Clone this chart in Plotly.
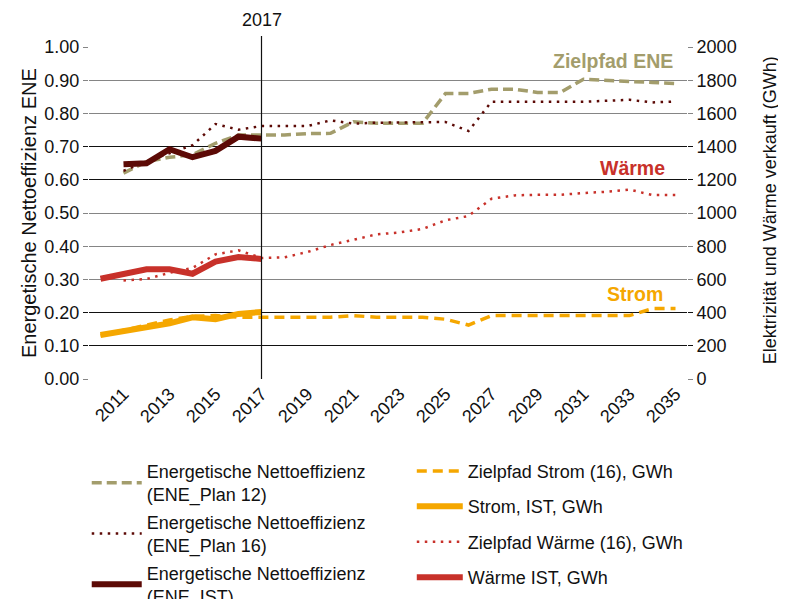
import plotly.graph_objects as go

# ---------------- data ----------------
years_ene = list(range(2011, 2036))
ene_plan12 = [0.620, 0.655, 0.668, 0.675, 0.710, 0.735, 0.735, 0.735, 0.739, 0.740,
              0.775, 0.770, 0.770, 0.770, 0.860, 0.860, 0.873, 0.873, 0.863, 0.863,
              0.903, 0.899, 0.896, 0.893, 0.890]
ene_plan16 = [0.627, 0.655, 0.680, 0.704, 0.768, 0.751, 0.762, 0.762, 0.762, 0.779,
              0.769, 0.772, 0.772, 0.772, 0.774, 0.747, 0.835, 0.835, 0.835, 0.835,
              0.835, 0.838, 0.841, 0.833, 0.836]
years_ene_ist = list(range(2011, 2018))
ene_ist = [0.647, 0.650, 0.692, 0.668, 0.687, 0.730, 0.724]

years_ist = list(range(2010, 2018))
waerme_ist = [604, 628, 661, 661, 634, 707, 735, 723]
strom_ist = [265, 291, 315, 335, 372, 360, 392, 404]

years_zw = list(range(2011, 2036))
zielpfad_waerme = [594, 602, 640, 669, 751, 775, 729, 733, 765, 807, 839, 871, 883,
                   904, 956, 982, 1086, 1106, 1110, 1110, 1120, 1128, 1141, 1108, 1108]
years_zs = list(range(2010, 2036))
zielpfad_strom = [262, 295, 325, 355, 378, 382, 372, 372, 372, 372, 372, 382, 372,
                  372, 372, 360, 325, 382, 382, 382, 382, 382, 382, 382, 424, 424]

x_ticks = list(range(2011, 2036, 2))
x_ticktext = [str(v) for v in x_ticks]
left_ticks = [i / 10 for i in range(0, 11)]
right_ticks = list(range(0, 2001, 200))
black_grid = [200, 400, 1200, 1400]
marker_year = 2017

# ---------------- colours ----------------
KHAKI = "#a39d6c"
BROWN = "#5c0a06"
RED = "#c8312a"
ORANGE = "#f5a700"
FONT = "Liberation Sans, Arial, sans-serif"

fig = go.Figure()

fig.add_trace(go.Scatter(x=years_ene, y=ene_plan12, mode="lines",
                         name="Energetische Nettoeffizienz<br>(ENE_Plan 12)",
                         line=dict(color=KHAKI, width=3.5, dash="10px,5px"),
                         legend="legend", legendgroup="a"))
fig.add_trace(go.Scatter(x=years_ene, y=ene_plan16, mode="lines",
                         name="Energetische Nettoeffizienz<br>(ENE_Plan 16)",
                         line=dict(color=BROWN, width=2.5, dash="2.5px,5.5px"),
                         legend="legend", legendgroup="b"))
fig.add_trace(go.Scatter(x=years_ene_ist, y=ene_ist, mode="lines",
                         name="Energetische Nettoeffizienz<br>(ENE_IST)",
                         line=dict(color=BROWN, width=6),
                         legend="legend", legendgroup="c"))

fig.add_trace(go.Scatter(x=years_zs, y=zielpfad_strom, mode="lines", yaxis="y2",
                         name="Zielpfad Strom (16), GWh",
                         line=dict(color=ORANGE, width=3.5, dash="10px,6px"),
                         legend="legend2", legendgroup="d"))
fig.add_trace(go.Scatter(x=years_ist, y=strom_ist, mode="lines", yaxis="y2",
                         name="Strom, IST, GWh",
                         line=dict(color=ORANGE, width=6),
                         legend="legend2", legendgroup="e"))
fig.add_trace(go.Scatter(x=years_zw, y=zielpfad_waerme, mode="lines", yaxis="y2",
                         name="Zielpfad Wärme (16), GWh",
                         line=dict(color=RED, width=2.5, dash="2.5px,5.5px"),
                         legend="legend2", legendgroup="f"))
fig.add_trace(go.Scatter(x=years_ist, y=waerme_ist, mode="lines", yaxis="y2",
                         name="Wärme IST, GWh",
                         line=dict(color=RED, width=6),
                         legend="legend2", legendgroup="g"))

# invisible trace to activate the overlay axis that draws the darker gridlines
fig.add_trace(go.Scatter(x=[years_ist[0]], y=[black_grid[0]], yaxis="y3", mode="markers",
                         marker=dict(opacity=0), showlegend=False, hoverinfo="skip"))

fig.add_shape(type="line", xref="x", yref="paper", x0=marker_year, x1=marker_year,
              y0=0, y1=1.033, line=dict(color="#111111", width=1.2), layer="above")

fig.add_annotation(x=marker_year, xref="x", y=1.081, yref="paper", text=str(marker_year),
                   xanchor="center", yanchor="middle",
                   showarrow=False, font=dict(family=FONT, size=18, color="#111111"))
fig.add_annotation(x=0.98, xref="paper", y=0.959, yref="paper", text="<b>Zielpfad ENE</b>",
                   xanchor="right", yanchor="middle", showarrow=False,
                   font=dict(family=FONT, size=19.5, color=KHAKI))
fig.add_annotation(x=0.966, xref="paper", y=0.636, yref="paper", text="<b>Wärme</b>",
                   xanchor="right", yanchor="middle", showarrow=False,
                   font=dict(family=FONT, size=19.5, color=RED))
fig.add_annotation(x=0.963, xref="paper", y=0.255, yref="paper", text="<b>Strom</b>",
                   xanchor="right", yanchor="middle", showarrow=False,
                   font=dict(family=FONT, size=19.5, color=ORANGE))

# axis titles
fig.add_annotation(x=-0.1003, xref="paper", y=0.5, yref="paper", textangle=-90,
                   xanchor="center", yanchor="middle",
                   text="Energetische Nettoeffizienz ENE", showarrow=False,
                   font=dict(family=FONT, size=20, color="#111111"))
fig.add_annotation(x=1.1388, xref="paper", y=0.508, yref="paper", textangle=-90,
                   xanchor="center", yanchor="middle",
                   text="Elektrizität und Wärme verkauft (GWh)", showarrow=False,
                   font=dict(family=FONT, size=18, color="#111111"))

fig.update_layout(
    width=778, height=591,
    margin=dict(l=81, r=99, t=39, b=220, autoexpand=False),
    paper_bgcolor="white", plot_bgcolor="white",
    font=dict(family=FONT, size=18, color="#111111"),
    xaxis=dict(range=[2009.5, 2035.5], tickvals=x_ticks, ticktext=x_ticktext,
               tickangle=-45, showgrid=False, zeroline=False, showline=False,
               ticks="", tickfont=dict(size=18), automargin=False),
    yaxis=dict(range=[0, 1], tickvals=left_ticks, tickformat=".2f",
               showgrid=True, gridcolor="#858585", gridwidth=1.4, zeroline=False,
               ticks="outside", ticklen=5, tickcolor="#858585", tickwidth=1.4,
               automargin=False),
    yaxis2=dict(range=[0, 2000], tickvals=right_ticks, overlaying="y", side="right",
                showgrid=False, zeroline=False, ticks="outside", ticklen=5,
                tickcolor="#858585", tickwidth=1.4, automargin=False),
    yaxis3=dict(range=[0, 2000], tickvals=black_grid, overlaying="y", side="left",
                showgrid=True, gridcolor="#111111", gridwidth=1.4, zeroline=False,
                showticklabels=False, ticks="outside", ticklen=5, tickcolor="#111111",
                tickwidth=1.4, mirror="ticks", showline=False, automargin=False),
    legend=dict(xref="container", yref="container", x=0.1012, y=0.2475,
                xanchor="left", yanchor="top", orientation="v",
                font=dict(family=FONT, size=18, color="#111111"), itemwidth=50,
                tracegroupgap=1, bgcolor="rgba(0,0,0,0)"),
    legend2=dict(xref="container", yref="container", x=0.519, y=0.2475,
                 xanchor="left", yanchor="top", orientation="v",
                 font=dict(family=FONT, size=18, color="#111111"), itemwidth=46,
                 tracegroupgap=9, bgcolor="rgba(0,0,0,0)"),
)

fig.write_html("out.html")
